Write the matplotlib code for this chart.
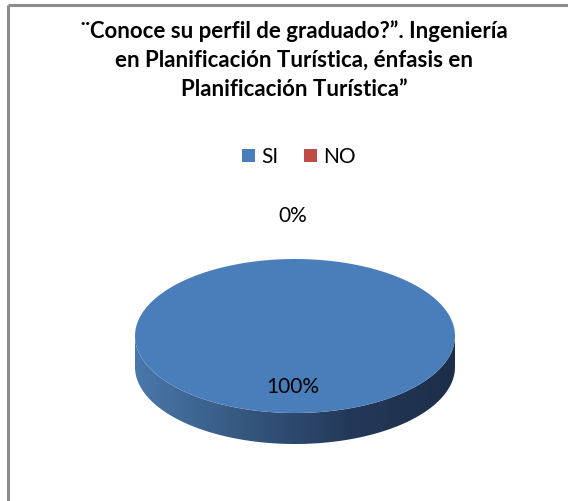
import numpy as np
import matplotlib
matplotlib.use("Agg")
import matplotlib.pyplot as plt
from matplotlib.patches import Polygon, Rectangle

# datos
categorias = ['SI', 'NO']
valores = [100, 0]
colores = ['#4a7ebb', '#be4b48']
titulo = '¨Conoce su perfil de graduado?”. Ingeniería\nen Planificación Turística, énfasis en\nPlanificación Turística”'

plt.rcParams['font.family'] = ['Lato', 'DejaVu Sans']

fig = plt.figure(figsize=(5.68, 5.02), dpi=100)
ax = fig.add_axes([0, 0, 1, 1])
ax.set_xlim(0, 568)
ax.set_ylim(502, 0)
ax.axis('off')

# marco (solo arriba e izquierda visibles)
ax.plot([7.5, 568], [5.5, 5.5], color='#8c8c8c', lw=2.2, solid_capstyle='butt')
ax.plot([7.5, 7.5], [5.5, 502], color='#8c8c8c', lw=2.2, solid_capstyle='butt')

ax.text(294, 60, titulo, ha='center', va='center', fontsize=16,
        fontweight='bold', linespacing=1.45, color='black')

# pastel 3D
cx, cy, a, b, prof = 295, 337, 160, 77, 31
total = float(sum(valores))
inicio = 90.0
angs = []
for v in valores:
    barrido = 360.0 * v / total
    angs.append((inicio - barrido, inicio))
    inicio -= barrido


def elipse(t, dy=0):
    return cx + a * np.cos(t), cy - b * np.sin(t) + dy


# lado frontal con degradado
t = np.linspace(np.pi, 2 * np.pi, 200)
x1, y1 = elipse(t)
x2, y2 = elipse(t[::-1], prof)
lado = Polygon(np.column_stack([np.r_[x1, x2], np.r_[y1, y2]]), closed=True,
               facecolor='none', edgecolor='none')
ax.add_patch(lado)
grad = np.linspace(0, 1, 256).reshape(1, -1)
cmap = matplotlib.colors.LinearSegmentedColormap.from_list(
    'lado', ['#4a78ac', '#35587f', '#24395a', '#1c2e48'])
im = ax.imshow(grad, cmap=cmap, aspect='auto',
               extent=[cx - a, cx + a, cy + b + prof, cy], zorder=1)
im.set_clip_path(lado)

# cara superior
for (t0, t1), col, v in zip(angs, colores, valores):
    if v <= 0:
        continue
    tt = np.radians(np.linspace(t0, t1, 300))
    xs, ys = elipse(tt)
    if v < total:
        xs = np.r_[cx, xs]
        ys = np.r_[cy, ys]
    ax.add_patch(Polygon(np.column_stack([xs, ys]), closed=True,
                         facecolor=col, edgecolor='none', zorder=2))

# etiquetas
ax.text(293, 387, f'{valores[0]}%', ha='center', va='center', fontsize=15, zorder=3)
ax.text(293, 216, f'{valores[1]}%', ha='center', va='center', fontsize=15, zorder=3)

# leyenda
ax.add_patch(Rectangle((242, 150), 13, 13, facecolor=colores[0], edgecolor='none'))
ax.text(261, 157, categorias[0], ha='left', va='center', fontsize=15)
ax.add_patch(Rectangle((304, 150), 13, 13, facecolor=colores[1], edgecolor='none'))
ax.text(323, 157, categorias[1], ha='left', va='center', fontsize=15)

fig.savefig('out.png', dpi=100, facecolor='white')
